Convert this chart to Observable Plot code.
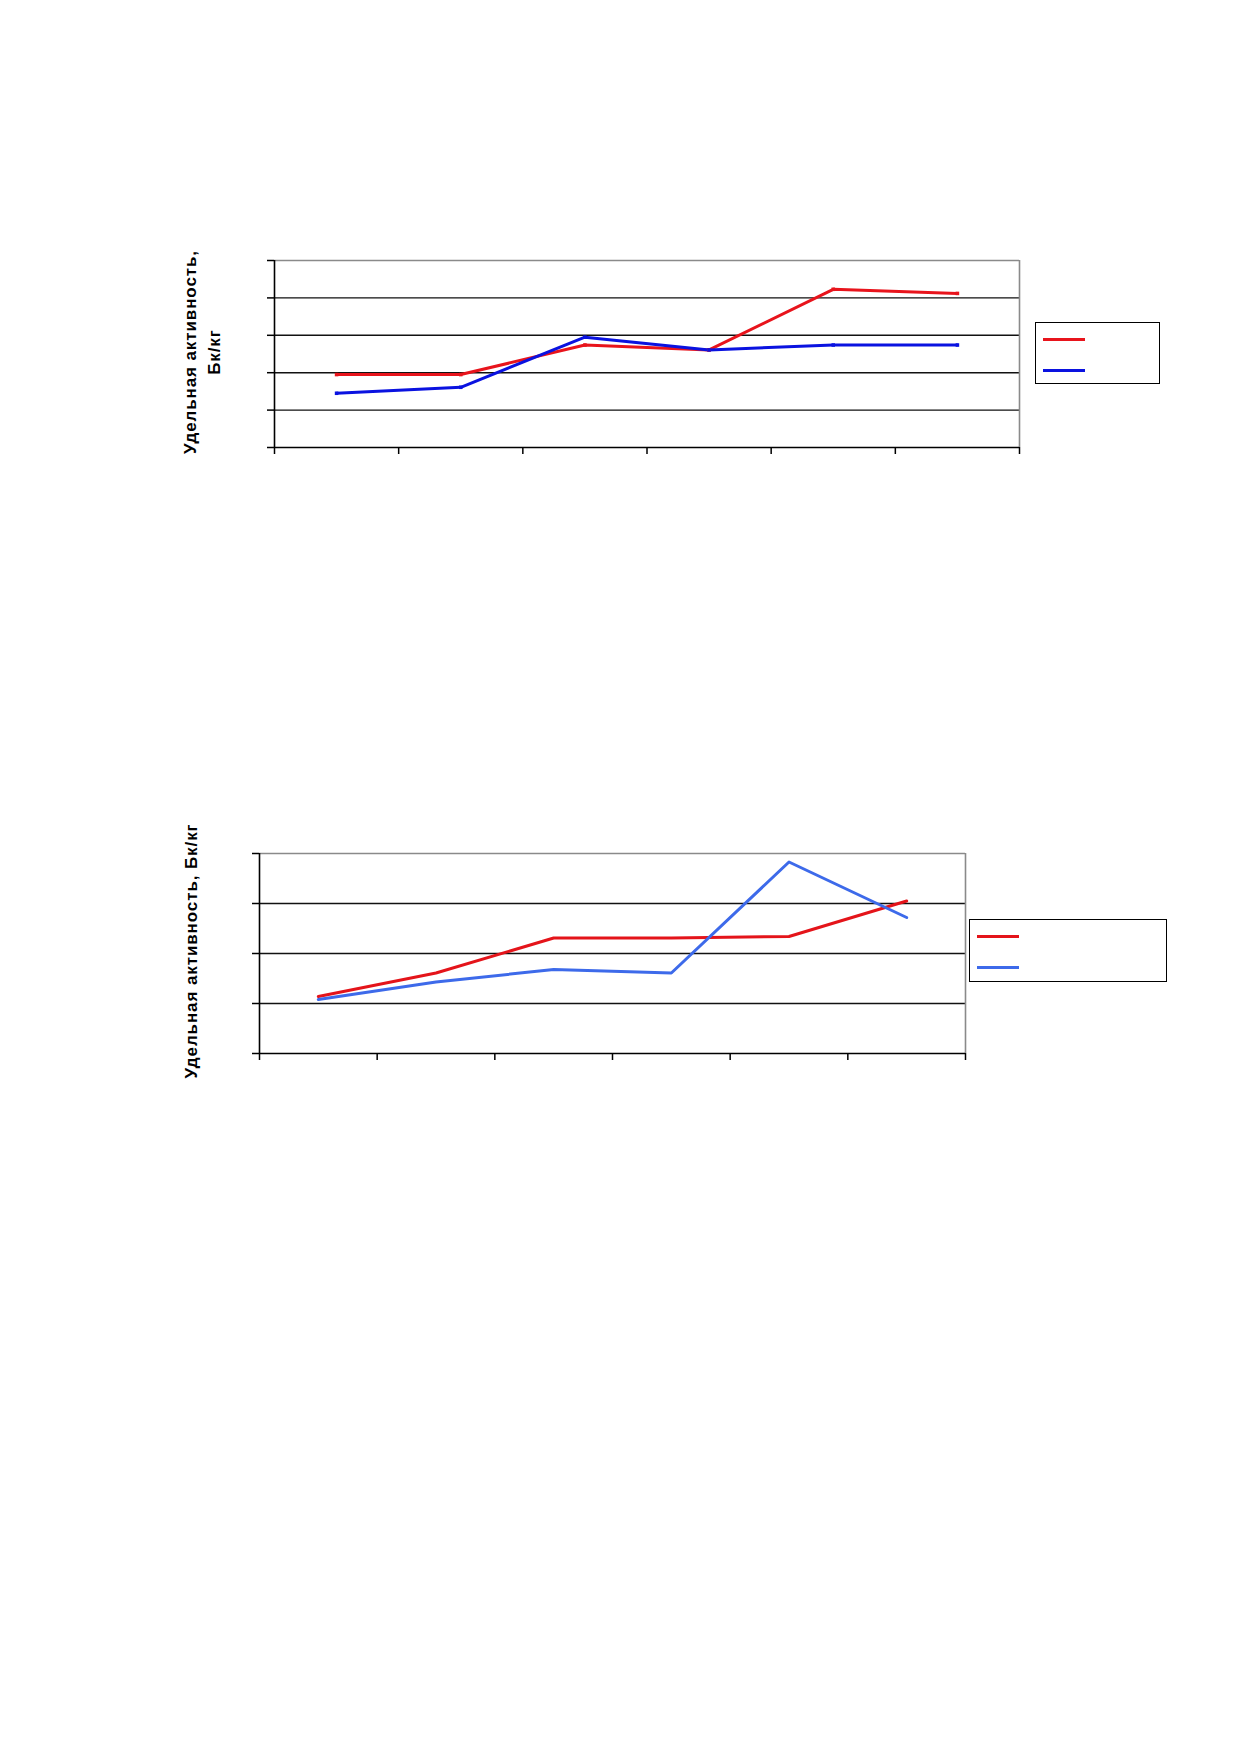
<!DOCTYPE html>
<html>
<head>
<meta charset="utf-8">
<script src="https://cdn.jsdelivr.net/npm/d3@7"></script>
<script src="https://cdn.jsdelivr.net/npm/@observablehq/plot@0.6"></script>
<style>
  html, body { margin: 0; padding: 0; background: #fff; }
  #page { position: relative; width: 1239px; height: 1752px; background: #fff; overflow: hidden; }
  .chart { position: absolute; left: 0; }
  .ylab { position: absolute; font-family: "Liberation Sans", Arial, sans-serif; font-weight: bold; font-size: 17px; letter-spacing: 0.9px; color: #000; text-align: center; transform: rotate(-90deg); transform-origin: 50% 50%; white-space: nowrap; }
  .legend { position: absolute; border: 1.6px solid #000; background: #fff; box-sizing: border-box; }
  .swatch { position: absolute; height: 3px; }
</style>
</head>
<body>
<div id="page"></div>
<script>
// ---- data (axis has no numeric labels, 1 unit = 1 gridline step) ----
const positions = [1, 2, 3, 4, 5, 6];
const chart1Red  = [1.95, 1.95, 2.74, 2.61, 4.23, 4.12];
const chart1Blue = [1.45, 1.61, 2.95, 2.61, 2.74, 2.74];
const chart1YTicks = [0, 1, 2, 3, 4, 5];
const chart2Red  = [1.14, 1.61, 2.31, 2.31, 2.34, 3.05];
const chart2Blue = [1.08, 1.43, 1.68, 1.61, 3.83, 2.72];
const chart2YTicks = [0, 1, 2, 3, 4];
const xTicks = [0, 1, 2, 3, 4, 5, 6];
const yLabel1 = ["Удельная активность,", "Бк/кг"];
const yLabel2 = "Удельная активность, Бк/кг";

const page = document.getElementById("page");

function rows(vals) { return positions.map((p, i) => ({x: p - 0.5, y: vals[i]})); }

function makeChart({top, height, mt, mb, ml, mr, yTicks, red, blue, redColor, blueColor, markers}) {
  const ymax = yTicks[yTicks.length - 1];
  const marks = [
    Plot.ruleY(yTicks.slice(1, -1), {stroke: "#111", strokeWidth: 1.4}),
    Plot.ruleY([ymax], {stroke: "#8a8a8a", strokeWidth: 1.6}),
    Plot.ruleX([6], {stroke: "#8a8a8a", strokeWidth: 1.6}),
    Plot.axisX({ticks: xTicks, tickSize: 7, tickFormat: () => "", label: null, strokeWidth: 1.5}),
    Plot.axisY({ticks: yTicks, tickSize: 7, tickFormat: () => "", label: null, strokeWidth: 1.5}),
    Plot.ruleX([0], {stroke: "#000", strokeWidth: 1.6}),
    Plot.ruleY([0], {stroke: "#000", strokeWidth: 1.6}),
    Plot.line(rows(red), {x: "x", y: "y", stroke: redColor, strokeWidth: 3}),
    Plot.line(rows(blue), {x: "x", y: "y", stroke: blueColor, strokeWidth: 3})
  ];
  if (markers) {
    marks.push(Plot.dot(rows(red), {x: "x", y: "y", fill: redColor, r: 2, symbol: "square"}));
    marks.push(Plot.dot(rows(blue), {x: "x", y: "y", fill: blueColor, r: 2, symbol: "square"}));
  }
  const svg = Plot.plot({
    width: 1239, height,
    marginTop: mt, marginBottom: mb, marginLeft: ml, marginRight: mr,
    x: {domain: [0, 6]},
    y: {domain: [0, ymax]},
    style: {background: "transparent", overflow: "visible"},
    marks
  });
  svg.classList.add("chart");
  svg.style.top = top + "px";
  page.appendChild(svg);
}

makeChart({top: 240, height: 230, mt: 20, mb: 23, ml: 274, mr: 220, yTicks: chart1YTicks,
  red: chart1Red, blue: chart1Blue, redColor: "#e8141c", blueColor: "#0a12e0", markers: true});
makeChart({top: 832, height: 240, mt: 21, mb: 19, ml: 259, mr: 274, yTicks: chart2YTicks,
  red: chart2Red, blue: chart2Blue, redColor: "#e4141a", blueColor: "#3d6aea", markers: false});

// y labels
function ylabel(lines, cx, cy, w) {
  const d = document.createElement("div");
  d.className = "ylab";
  const h = 24 * lines.length;
  d.style.width = w + "px"; d.style.height = h + "px"; d.style.lineHeight = "24px";
  d.style.left = (cx - w / 2) + "px"; d.style.top = (cy - h / 2) + "px";
  d.innerHTML = lines.map(t => `<div>${t}</div>`).join("");
  page.appendChild(d);
}
ylabel(yLabel1, 203, 352, 280);
ylabel([yLabel2], 192, 951, 320);

// legends
function legend(x0, y0, x1, y1, items) {
  const box = document.createElement("div");
  box.className = "legend";
  box.style.left = x0 + "px"; box.style.top = y0 + "px";
  box.style.width = (x1 - x0) + "px"; box.style.height = (y1 - y0) + "px";
  page.appendChild(box);
  items.forEach(it => {
    const s = document.createElement("div");
    s.className = "swatch";
    s.style.background = it.color;
    s.style.left = it.x0 + "px"; s.style.top = (it.y - 1.5) + "px";
    s.style.width = (it.x1 - it.x0) + "px";
    page.appendChild(s);
  });
}
legend(1035, 322, 1160, 384, [
  {color: "#e8141c", x0: 1043, x1: 1085, y: 339},
  {color: "#0a12e0", x0: 1043, x1: 1085, y: 370}
]);
legend(969, 919, 1167, 982, [
  {color: "#e4141a", x0: 977, x1: 1019, y: 936},
  {color: "#3d6aea", x0: 977, x1: 1019, y: 967}
]);
</script>
</body>
</html>
